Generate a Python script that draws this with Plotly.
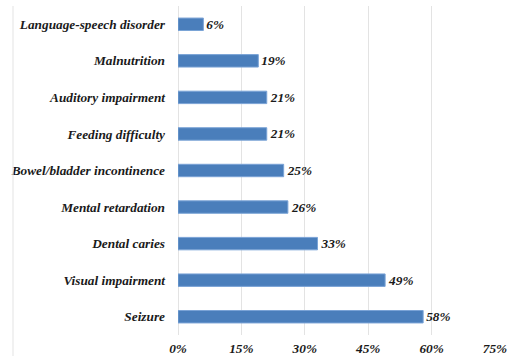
import plotly.graph_objects as go

categories = ["Language-speech disorder", "Malnutrition", "Auditory impairment",
              "Feeding difficulty", "Bowel/bladder incontinence", "Mental retardation",
              "Dental caries", "Visual impairment", "Seizure"]
values = [6, 19, 21, 21, 25, 26, 33, 49, 58]
tick_vals = [0, 15, 30, 45, 60, 75]
tick_text = ["0%", "15%", "30%", "45%", "60%", "75%"]

FONT = "Liberation Serif"
FS = 13.3

fig = go.Figure(go.Bar(
    x=values, y=categories, orientation="h",
    marker=dict(color="#4a7ebb", line=dict(color="#7aa3d6", width=1)),
    width=0.34,
    text=[f"{v}%" for v in values], textposition="outside",
    texttemplate="<b><i>%{x}%</i></b>",
    constraintext="none",
    textfont=dict(family=FONT, size=FS, color="#1a1a1a"),
    cliponaxis=False,
))

fig.update_layout(
    width=513, height=356,
    margin=dict(l=178, r=18, t=6, b=21),
    paper_bgcolor="white", plot_bgcolor="white",
    showlegend=False,
    font=dict(family=FONT, size=FS, color="#1a1a1a"),
    xaxis=dict(range=[0, 75], tickvals=tick_vals,
               ticktext=[f"<b><i>{t}</i></b>" for t in tick_text],
               showgrid=True, gridcolor="#e3e3e3", gridwidth=1,
               zeroline=True, zerolinecolor="#e3e3e3", zerolinewidth=1,
               showline=False, ticks="", ticklabelstandoff=4, automargin=False,
               tickfont=dict(family=FONT, size=FS, color="#1a1a1a")),
    yaxis=dict(categoryorder="array", categoryarray=categories[::-1],
               tickvals=categories,
               ticktext=[f"<b><i>{c}</i></b>" for c in categories],
               showgrid=False, showline=False, ticks="", ticklabelstandoff=12,
               automargin=False,
               tickfont=dict(family=FONT, size=FS, color="#1a1a1a")),
    shapes=[dict(type="line", xref="paper", yref="paper",
                 x0=-0.5205, x1=-0.5205, y0=-0.07, y1=1.0,
                 line=dict(color="#e3e3e3", width=1))],
)

fig.write_html("out.html")
